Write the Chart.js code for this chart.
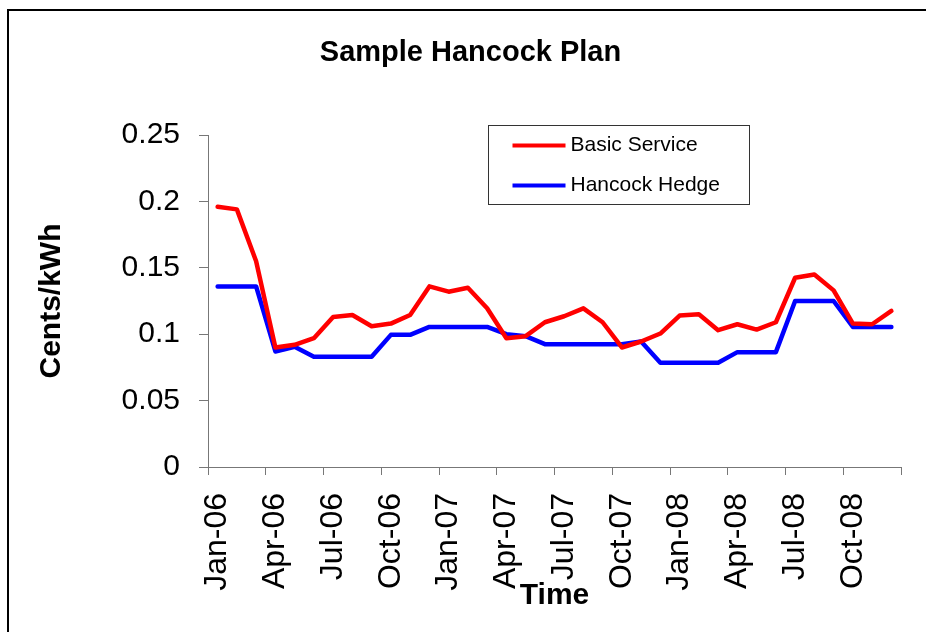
<!DOCTYPE html>
<html lang="en">
<head>
    <meta charset="UTF-8">
    <script src="https://cdn.jsdelivr.net/npm/chart.js@4.4.0/dist/chart.umd.min.js"></script>
    <title>Sample Hancock Plan</title>
    <style>
        html, body { margin: 0; padding: 0; background: #fff; overflow: hidden; }
        #frame { position: absolute; left: 7px; top: 9px; width: 1000px; height: 1000px; border: 2px solid #000; }
        #wrap { position: absolute; left: 0; top: 0; width: 926px; height: 632px; }
    </style>
</head>
<body>
    <div id="frame"></div>
    <div id="wrap"><canvas id="chart"></canvas></div>
    <script>
        const months = [
            'Jan-06', 'Feb-06', 'Mar-06', 'Apr-06', 'May-06', 'Jun-06', 'Jul-06', 'Aug-06', 'Sep-06', 'Oct-06', 'Nov-06', 'Dec-06',
            'Jan-07', 'Feb-07', 'Mar-07', 'Apr-07', 'May-07', 'Jun-07', 'Jul-07', 'Aug-07', 'Sep-07', 'Oct-07', 'Nov-07', 'Dec-07',
            'Jan-08', 'Feb-08', 'Mar-08', 'Apr-08', 'May-08', 'Jun-08', 'Jul-08', 'Aug-08', 'Sep-08', 'Oct-08', 'Nov-08', 'Dec-08'
        ];
        const basicService = [
            0.196, 0.194, 0.155, 0.090, 0.092, 0.097, 0.113, 0.1145, 0.106, 0.108, 0.1145, 0.136,
            0.132, 0.135, 0.1195, 0.097, 0.0985, 0.109, 0.1135, 0.1195, 0.109, 0.090, 0.0945, 0.1005,
            0.114, 0.115, 0.103, 0.1075, 0.1035, 0.109, 0.1425, 0.145, 0.133, 0.108, 0.1075, 0.1175
        ];
        const hancockHedge = [
            0.136, 0.136, 0.136, 0.087, 0.0905, 0.083, 0.083, 0.083, 0.083, 0.0995, 0.0995, 0.1055,
            0.1055, 0.1055, 0.1055, 0.100, 0.0985, 0.0925, 0.0925, 0.0925, 0.0925, 0.0925, 0.0945, 0.0785,
            0.0785, 0.0785, 0.0785, 0.0865, 0.0865, 0.0865, 0.125, 0.125, 0.125, 0.1055, 0.1055, 0.1055
        ];
        const yMin = 0, yMax = 0.25, yStep = 0.05;

        const FONT = "'Liberation Sans', Arial, sans-serif";
        const AXIS = '#777';

        // legend drawn as a boxed key inside the plot, like the original
        const boxLegend = {
            id: 'boxLegend',
            afterDatasetsDraw(chart) {
                const c = chart.ctx, a = chart.chartArea;
                const x = a.left + 280.5, y = a.top - 9.5, w = 261, h = 79;
                c.save();
                c.fillStyle = '#fff';
                c.fillRect(x, y, w, h);
                c.strokeStyle = '#333';
                c.lineWidth = 1;
                c.strokeRect(x, y, w, h);
                c.font = '21px ' + FONT;
                c.textBaseline = 'middle';
                chart.data.datasets.forEach((ds, i) => {
                    const ly = y + 20 + i * 40;
                    c.strokeStyle = ds.borderColor;
                    c.lineWidth = 4;
                    c.beginPath();
                    c.moveTo(x + 24, ly);
                    c.lineTo(x + 77, ly);
                    c.stroke();
                    c.fillStyle = '#000';
                    c.fillText(ds.label, x + 82, ly);
                });
                c.restore();
            }
        };

        const ctx = document.getElementById('chart').getContext('2d');
        const chart = new Chart(ctx, {
            type: 'line',
            data: {
                labels: months,
                datasets: [{
                    label: 'Basic Service',
                    data: basicService,
                    borderColor: '#ff0000',
                    borderWidth: 4.5,
                    pointRadius: 0,
                    tension: 0,
                    borderJoinStyle: 'round',
                    borderCapStyle: 'round'
                }, {
                    label: 'Hancock Hedge',
                    data: hancockHedge,
                    borderColor: '#0000ff',
                    borderWidth: 4.5,
                    pointRadius: 0,
                    tension: 0,
                    borderJoinStyle: 'round',
                    borderCapStyle: 'round'
                }]
            },
            options: {
                responsive: true,
                maintainAspectRatio: false,
                animation: false,
                layout: { padding: { left: 40, top: 0, right: 25, bottom: 0 } },
                plugins: {
                    legend: { display: false },
                    tooltip: { enabled: false },
                    title: {
                        display: true,
                        text: 'Sample Hancock Plan',
                        color: '#000',
                        font: { family: FONT, size: 29, weight: 'bold' },
                        padding: { top: 35.5, bottom: 64.7 }
                    }
                },
                scales: {
                    x: {
                        offset: true,
                        grid: {
                            offset: true,
                            drawOnChartArea: false,
                            drawTicks: true,
                            tickLength: 8,
                            color: c => (c.index === undefined || c.index % 3 === 0) ? AXIS : 'rgba(0,0,0,0)'
                        },
                        border: { display: true, color: AXIS, width: 1 },
                        ticks: {
                            autoSkip: false,
                            maxRotation: 90,
                            minRotation: 90,
                            padding: 18,
                            color: '#000',
                            font: { family: FONT, size: 32 },
                            callback: function (v, i) { return i % 3 === 0 ? months[i] : ''; }
                        },
                        title: {
                            display: true,
                            text: 'Time',
                            color: '#000',
                            font: { family: FONT, size: 30, weight: 'bold' },
                            padding: { top: 0, bottom: 18 }
                        },
                        afterFit: s => { s.height = 165; s.paddingLeft = 0; s.paddingRight = 0; }
                    },
                    y: {
                        min: yMin,
                        max: yMax,
                        grid: {
                            drawOnChartArea: false,
                            drawTicks: true,
                            tickLength: 9,
                            color: AXIS
                        },
                        border: { display: true, color: AXIS, width: 1 },
                        ticks: {
                            stepSize: yStep,
                            padding: 19,
                            color: '#000',
                            font: { family: FONT, size: 30 },
                            callback: v => String(+v.toFixed(2))
                        },
                        title: {
                            display: true,
                            text: 'Cents/kWh',
                            color: '#000',
                            font: { family: FONT, size: 30, weight: 'bold' },
                            padding: { top: -6, bottom: 0 }
                        },
                        afterFit: s => { s.width = 168; }
                    }
                }
            },
            plugins: [boxLegend]
        });
    </script>
</body>
</html>
